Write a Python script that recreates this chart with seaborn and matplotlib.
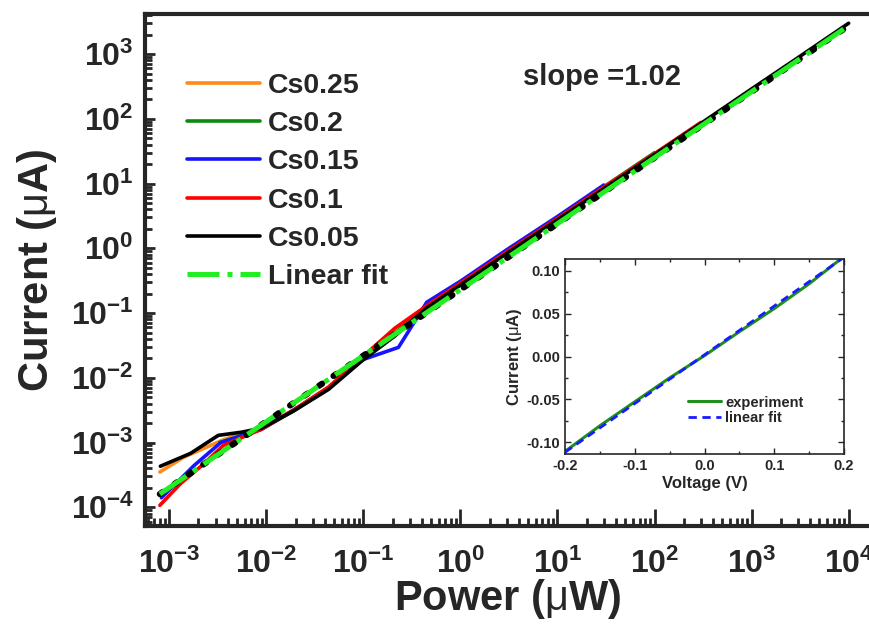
import numpy as np
import pandas as pd
import matplotlib
matplotlib.use('Agg')
import matplotlib.pyplot as plt
import seaborn as sns
from matplotlib.ticker import FixedLocator, LogFormatterSciNotation, NullFormatter, MultipleLocator

# %% data
# power (uW) / current (uA) per composition
p_cs025 = [8.0e-4, 1.4e-3, 3.6e-3, 8.9e-3, 0.0193, 0.0437, 0.098, 0.21, 0.45, 1, 3, 10, 15]
i_cs025 = [3.5e-4, 5.9e-4, 1.1e-3, 1.7e-3, 3.2e-3, 7.0e-3, 0.019, 0.050, 0.12, 0.28, 0.87, 2.9, 3.9]

p_cs02 = [3.3e-3, 8.9e-3, 0.0193, 0.0437, 0.098, 0.21, 0.45, 1, 3, 10, 30, 100]
i_cs02 = [1.0e-3, 1.6e-3, 3.1e-3, 6.9e-3, 0.019, 0.048, 0.125, 0.29, 0.88, 2.95, 8.9, 30]

p_cs015 = [8.3e-4, 1.8e-3, 3.4e-3, 8.9e-3, 0.0193, 0.0437, 0.098, 0.23, 0.45, 1, 3, 10, 30]
i_cs015 = [1.4e-4, 4.4e-4, 1.0e-3, 1.6e-3, 3.2e-3, 7.0e-3, 0.019, 0.0295, 0.147, 0.31, 0.95, 3.1, 9.5]

p_cs01 = [8.0e-4, 1.3e-3, 2.2e-3, 3.6e-3, 8.9e-3, 0.0193, 0.0437, 0.098, 0.21, 0.45, 1, 3, 10, 30, 100, 300]
i_cs01 = [1.07e-4, 2.3e-4, 4.5e-4, 9.0e-4, 1.6e-3, 3.2e-3, 7.2e-3, 0.021, 0.058, 0.13, 0.29, 0.88, 2.9, 8.8, 29, 88]

p_cs005 = [8.1e-4, 1.66e-3, 3.2e-3, 5.5e-3, 8.9e-3, 0.0193, 0.0437, 0.098, 0.21, 0.45, 1, 3, 10, 30, 100, 300, 1000, 3000, 10000]
i_cs005 = [4.3e-4, 6.8e-4, 1.29e-3, 1.44e-3, 1.66e-3, 3.1e-3, 6.6e-3, 0.0186, 0.044, 0.12, 0.27, 0.83, 2.75, 8.3, 28, 85, 290, 880, 3000]

p_fit = [8.0e-4, 1.0e4]
i_fit = [1.6e-4, 2750]

series = [
    ('Cs0.25', p_cs025, i_cs025, '#ff8a1c'),
    ('Cs0.2', p_cs02, i_cs02, '#0b8a0b'),
    ('Cs0.15', p_cs015, i_cs015, '#1414ff'),
    ('Cs0.1', p_cs01, i_cs01, '#ff0000'),
    ('Cs0.05', p_cs005, i_cs005, '#000000'),
]

x_major = [1e-3, 1e-2, 1e-1, 1e0, 1e1, 1e2, 1e3, 1e4]
y_major = [1e-4, 1e-3, 1e-2, 1e-1, 1e0, 1e1, 1e2, 1e3]

# inset I-V
v_exp = [-0.2, -0.15, -0.1, -0.05, 0.0, 0.05, 0.1, 0.15, 0.2]
i_exp = [-0.111, -0.081, -0.053, -0.025, 0.001, 0.029, 0.056, 0.085, 0.117]
v_lin = [-0.2, 0.2]
i_lin = [-0.112, 0.116]

# %% style
sns.set_theme(style='ticks')
plt.rcParams['font.family'] = ['Liberation Sans', 'DejaVu Sans']
plt.rcParams['font.weight'] = 'bold'
plt.rcParams['axes.unicode_minus'] = False
plt.rcParams['mathtext.fontset'] = 'custom'
plt.rcParams['mathtext.rm'] = 'Liberation Sans:weight=normal'
plt.rcParams['mathtext.it'] = 'Liberation Sans:italic:weight=normal'
plt.rcParams['mathtext.bf'] = 'Liberation Sans:bold'

fig = plt.figure(figsize=(8.7, 6.3), dpi=100)
ax = fig.add_axes([145 / 870, 1 - 526 / 630, 1 - 145 / 870, 512 / 630])

for name, p, i, c in series:
    sns.lineplot(x=p, y=i, color=c, lw=2.6, label=name, sort=False,
                 estimator=None, ax=ax)

ax.plot(p_fit, i_fit, color='black', lw=4.5, ls=(0, (0.6, 2.2)),
        solid_capstyle='round', dash_capstyle='round', zorder=5)
ax.plot(p_fit, i_fit, color='#22ee22', lw=3.6, ls='-.', label='Linear fit', zorder=6)

ax.set_xscale('log')
ax.set_yscale('log')
ax.set_xlim(10 ** -3.25, 10 ** 4.22)
ax.set_ylim(10 ** -4.29, 10 ** 3.62)

x_minor = [m * d for d in [1e-4] + x_major for m in range(2, 10)]
y_minor = [m * d for d in [1e-5] + y_major for m in range(2, 10)]
x_minor = [v for v in x_minor if 10 ** -3.25 < v < 10 ** 4.22]
y_minor = [v for v in y_minor if 10 ** -4.29 < v < 10 ** 3.62]
ax.xaxis.set_major_locator(FixedLocator(x_major))
ax.yaxis.set_major_locator(FixedLocator(y_major))
ax.xaxis.set_major_formatter(LogFormatterSciNotation())
ax.yaxis.set_major_formatter(LogFormatterSciNotation())
ax.xaxis.set_minor_locator(FixedLocator(x_minor))
ax.yaxis.set_minor_locator(FixedLocator(y_minor))
ax.xaxis.set_minor_formatter(NullFormatter())
ax.yaxis.set_minor_formatter(NullFormatter())

ax.tick_params(axis='both', which='both', direction='in', width=2, labelsize=23)
ax.tick_params(axis='x', which='major', length=12, pad=16)
ax.tick_params(axis='x', which='minor', length=6)
ax.tick_params(axis='y', which='major', length=7, pad=8)
ax.tick_params(axis='y', which='minor', length=5)
for s in ['left', 'bottom', 'top']:
    ax.spines[s].set_linewidth(3)
ax.spines['right'].set_visible(False)

ax.set_xlabel(r'Power ($\mathrm{\mu}$W)', fontsize=30, fontweight='bold', labelpad=-2)
ax.set_ylabel(r'Current ($\mathrm{\mu}$A)', fontsize=30, fontweight='bold', labelpad=8)

ax.text(0.521, 0.877, 'slope =1.02', transform=ax.transAxes, fontsize=21,
        fontweight='bold', va='center', ha='left')

handles, labels = ax.get_legend_handles_labels()
ax.legend(handles, labels, loc='upper left', bbox_to_anchor=(0.058, 0.885),
          frameon=False, fontsize=20.5, handlelength=2.55, handletextpad=0.3,
          labelspacing=0.43, borderpad=0, borderaxespad=0)

# %% inset
ins = fig.add_axes([565 / 870, 1 - 454 / 630, 279 / 870, 195 / 630])
sns.lineplot(x=v_exp, y=i_exp, color='#1f8f1f', lw=2.2, label='experiment',
             sort=False, estimator=None, ax=ins)
sns.lineplot(x=v_lin, y=i_lin, color='#1a1aff', lw=2.0, label='linear fit',
             sort=False, estimator=None, ax=ins)
ins.lines[1].set_linestyle((0, (3, 2)))
ins.set_xlim(-0.2, 0.2)
ins.set_ylim(-0.114, 0.114)
ins.xaxis.set_major_locator(MultipleLocator(0.1))
ins.yaxis.set_major_locator(MultipleLocator(0.05))
ins.xaxis.set_minor_locator(MultipleLocator(0.05))
ins.yaxis.set_minor_locator(MultipleLocator(0.025))
ins.xaxis.set_major_formatter(matplotlib.ticker.FormatStrFormatter('%.1f'))
ins.yaxis.set_major_formatter(matplotlib.ticker.FormatStrFormatter('%.2f'))
ins.tick_params(axis='both', which='both', direction='in', top=True, right=True,
                width=1, labelsize=10.5)
ins.tick_params(which='major', length=4)
ins.tick_params(which='minor', length=2.5)
for s in ins.spines.values():
    s.set_linewidth(1.2)
ins.set_xlabel('Voltage (V)', fontsize=12, fontweight='bold', labelpad=2)
ins.set_ylabel(r'Current ($\mathrm{\mu}$A)', fontsize=12, fontweight='bold', labelpad=2)
ins.legend(loc='upper left', bbox_to_anchor=(0.44, 0.30), frameon=False,
           fontsize=10.5, handlelength=2.3, handletextpad=0.25, labelspacing=0.12,
           borderpad=0, borderaxespad=0)

fig.savefig('out.png', dpi=100)
